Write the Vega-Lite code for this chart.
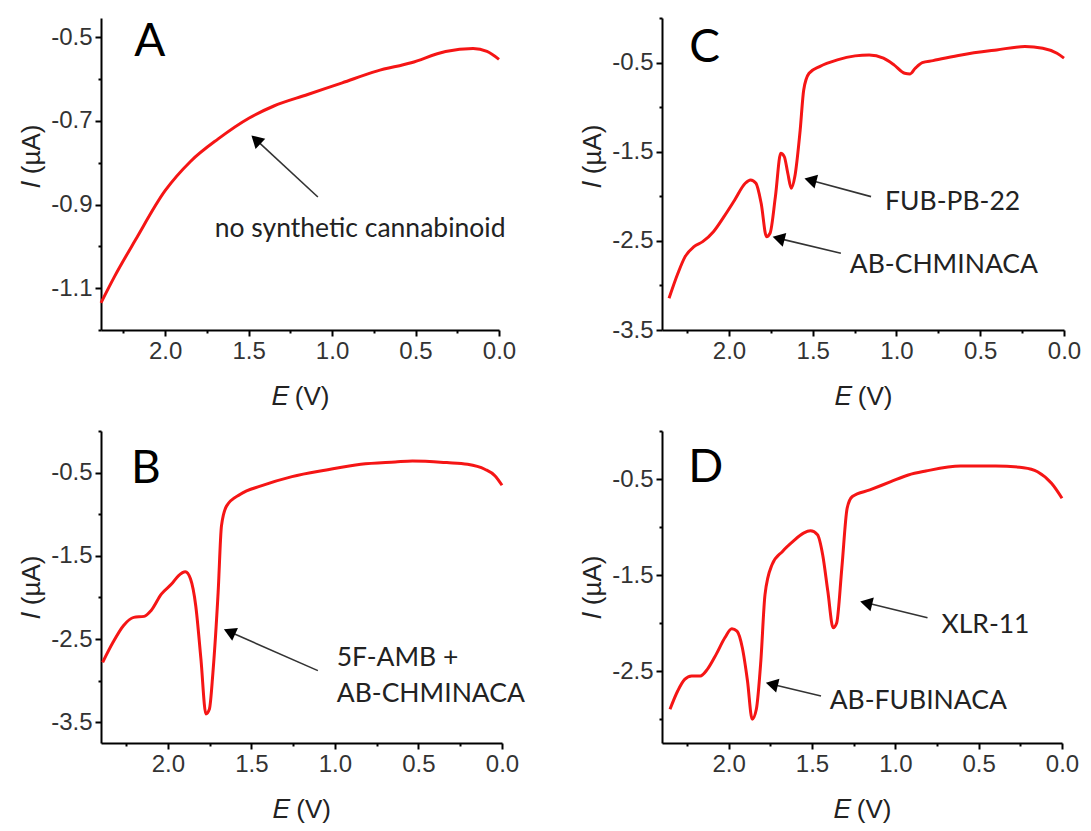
{
  "$schema": "https://vega.github.io/schema/vega-lite/v6.json",
  "background": "white",
  "padding": {"left": 18, "top": 6, "right": 10, "bottom": 5},
  "spacing": {"row": 10, "column": 54},
  "columns": 2,
  "datasets": {
    "A": [{"E":2.384,"I":-1.135},{"E":2.30,"I":-1.07},{"E":2.178,"I":-0.985},{"E":2.0,"I":-0.867},{"E":1.848,"I":-0.797},{"E":1.682,"I":-0.743},{"E":1.496,"I":-0.693},{"E":1.352,"I":-0.665},{"E":1.146,"I":-0.637},{"E":0.939,"I":-0.609},{"E":0.733,"I":-0.581},{"E":0.526,"I":-0.561},{"E":0.32,"I":-0.534},{"E":0.155,"I":-0.527},{"E":0.072,"I":-0.534},{"E":0.0,"I":-0.553}],
    "C": [{"E":2.358,"I":-3.145},{"E":2.305,"I":-2.864},{"E":2.262,"I":-2.677},{"E":2.209,"I":-2.565},{"E":2.157,"I":-2.509},{"E":2.093,"I":-2.397},{"E":2.03,"I":-2.228},{"E":1.966,"I":-2.041},{"E":1.903,"I":-1.854},{"E":1.871,"I":-1.817},{"E":1.839,"I":-1.854},{"E":1.808,"I":-2.079},{"E":1.776,"I":-2.453},{"E":1.755,"I":-2.415},{"E":1.723,"I":-2.004},{"E":1.691,"I":-1.518},{"E":1.67,"I":-1.555},{"E":1.649,"I":-1.742},{"E":1.628,"I":-1.91},{"E":1.607,"I":-1.779},{"E":1.575,"I":-1.256},{"E":1.554,"I":-0.807},{"E":1.522,"I":-0.62},{"E":1.459,"I":-0.545},{"E":1.353,"I":-0.47},{"E":1.247,"I":-0.425},{"E":1.163,"I":-0.414},{"E":1.078,"I":-0.451},{"E":1.015,"I":-0.526},{"E":0.951,"I":-0.62},{"E":0.919,"I":-0.627},{"E":0.888,"I":-0.564},{"E":0.846,"I":-0.5},{"E":0.782,"I":-0.478},{"E":0.613,"I":-0.414},{"E":0.402,"I":-0.358},{"E":0.233,"I":-0.32},{"E":0.127,"I":-0.339},{"E":0.042,"I":-0.395},{"E":0.0,"I":-0.45}],
    "B": [{"E":2.39,"I":-2.78},{"E":2.328,"I":-2.54},{"E":2.266,"I":-2.34},{"E":2.204,"I":-2.24},{"E":2.142,"I":-2.228},{"E":2.101,"I":-2.16},{"E":2.039,"I":-1.96},{"E":1.978,"I":-1.84},{"E":1.937,"I":-1.74},{"E":1.895,"I":-1.692},{"E":1.864,"I":-1.78},{"E":1.833,"I":-2.1},{"E":1.802,"I":-2.74},{"E":1.772,"I":-3.4},{"E":1.751,"I":-3.34},{"E":1.73,"I":-2.9},{"E":1.699,"I":-1.94},{"E":1.679,"I":-1.14},{"E":1.648,"I":-0.9},{"E":1.566,"I":-0.76},{"E":1.442,"I":-0.66},{"E":1.257,"I":-0.548},{"E":1.051,"I":-0.468},{"E":0.845,"I":-0.4},{"E":0.639,"I":-0.372},{"E":0.536,"I":-0.36},{"E":0.33,"I":-0.38},{"E":0.206,"I":-0.4},{"E":0.103,"I":-0.46},{"E":0.041,"I":-0.54},{"E":0.0,"I":-0.652}],
    "D": [{"E":2.352,"I":-2.898},{"E":2.306,"I":-2.708},{"E":2.264,"I":-2.587},{"E":2.222,"I":-2.552},{"E":2.17,"I":-2.552},{"E":2.128,"I":-2.483},{"E":2.075,"I":-2.327},{"E":2.023,"I":-2.154},{"E":1.981,"I":-2.06},{"E":1.95,"I":-2.085},{"E":1.918,"I":-2.258},{"E":1.887,"I":-2.604},{"E":1.859,"I":-3.002},{"E":1.834,"I":-2.898},{"E":1.807,"I":-2.396},{"E":1.782,"I":-1.704},{"E":1.74,"I":-1.393},{"E":1.677,"I":-1.254},{"E":1.614,"I":-1.15},{"E":1.551,"I":-1.064},{"E":1.509,"I":-1.04},{"E":1.467,"I":-1.081},{"E":1.436,"I":-1.289},{"E":1.405,"I":-1.67},{"E":1.373,"I":-2.05},{"E":1.352,"I":-2.0},{"E":1.321,"I":-1.427},{"E":1.289,"I":-0.804},{"E":1.258,"I":-0.683},{"E":1.153,"I":-0.614},{"E":1.027,"I":-0.528},{"E":0.922,"I":-0.458},{"E":0.817,"I":-0.417},{"E":0.608,"I":-0.365},{"E":0.398,"I":-0.365},{"E":0.231,"I":-0.382},{"E":0.147,"I":-0.424},{"E":0.063,"I":-0.545},{"E":0.0,"I":-0.7}],
    "A_arrows": [{"E":1.085,"I":-0.882,"E2":1.456,"I2":-0.745}],
    "C_arrows": [{"E":1.152,"I":-2.004,"E2":1.514,"I2":-1.819},{"E":1.332,"I":-2.64,"E2":1.704,"I2":-2.472}],
    "B_arrows": [{"E":1.102,"I":-2.88,"E2":1.631,"I2":-2.414}],
    "D_arrows": [{"E":0.807,"I":-1.946,"E2":1.175,"I2":-1.79},{"E":1.446,"I":-2.76,"E2":1.741,"I2":-2.638}],
    "A_text": [{"E":1.703,"I":-0.978,"label":"no synthetic cannabinoid"}],
    "C_text": [{"E":1.068,"I":-2.154,"label":"FUB-PB-22"},{"E":1.279,"I":-2.864,"label":"AB-CHMINACA"}],
    "B_text": [{"E":0.989,"I":-2.82,"label":"5F-AMB +"},{"E":0.989,"I":-3.26,"label":"AB-CHMINACA"}],
    "D_text": [{"E":0.723,"I":-2.102,"label":"XLR-11"},{"E":1.394,"I":-2.898,"label":"AB-FUBINACA"}],
    "A_tag": [{"E":2.092,"I":-0.546,"label":"A"}],
    "C_tag": [{"E":2.146,"I":-0.489,"label":"C"}],
    "B_tag": [{"E":2.132,"I":-0.62,"label":"B"}],
    "D_tag": [{"E":2.138,"I":-0.528,"label":"D"}]
  },
  "concat": [
    {
      "width": 398, "height": 312,
      "layer": [
        {"data": {"name": "A"}, "mark": {"type": "line", "color": "#f51515", "strokeWidth": 3, "interpolate": "monotone"},
         "encoding": {
           "x": {"field": "E", "type": "quantitative", "scale": {"domain": [0, 2.384], "reverse": true, "nice": false, "zero": false},
                 "axis": {"title": "𝐸 (V)", "values": [0,0.25,0.5,0.75,1,1.25,1.5,1.75,2,2.25], "labelExpr": "datum.value*2 % 1 === 0 ? format(datum.value,'.1f') : ''", "tickSize": {"condition": {"test": "datum.value*2 % 1 === 0", "value": 6}, "value": 3}, "labelFlush": false, "labelOverlap": false}},
           "y": {"field": "I", "type": "quantitative", "scale": {"domain": [-1.2, -0.454], "nice": false, "zero": false},
                 "axis": {"title": "𝐼 (µA)", "titleY": 138, "values": [-1.2,-1.1,-1.0,-0.9,-0.8,-0.7,-0.6,-0.5], "labelExpr": "abs(round(datum.value*10)) % 2 === 1 ? replace(format(datum.value,'.1f'),'\u2212','-') : ''", "tickSize": {"condition": {"test": "abs(round(datum.value*10)) % 2 === 1", "value": 6}, "value": 3}, "labelOverlap": false}}
         }},
        {"data": {"name": "A_arrows"}, "mark": {"type": "rule", "color": "#333", "strokeWidth": 1.6},
         "encoding": {"x": {"field": "E", "type": "quantitative"}, "y": {"field": "I", "type": "quantitative"}, "x2": {"field": "E2"}, "y2": {"field": "I2"}}},
        {"data": {"name": "A_arrows"}, "mark": {"type": "point", "shape": "triangle-up", "filled": true, "color": "#000", "opacity": 1, "size": 200, "angle": -47},
         "encoding": {"x": {"field": "E2", "type": "quantitative"}, "y": {"field": "I2", "type": "quantitative"}}},
        {"data": {"name": "A_text"}, "mark": {"type": "text", "align": "left", "baseline": "alphabetic", "font": "Lato", "fontSize": 26.5, "color": "#222"},
         "encoding": {"x": {"field": "E", "type": "quantitative"}, "y": {"field": "I", "type": "quantitative"}, "text": {"field": "label"}}},
        {"data": {"name": "A_tag"}, "mark": {"type": "text", "align": "center", "baseline": "alphabetic", "font": "Lato", "fontSize": 46, "color": "#000"},
         "encoding": {"x": {"field": "E", "type": "quantitative"}, "y": {"field": "I", "type": "quantitative"}, "text": {"field": "label"}}}
      ]
    },
    {
      "width": 402, "height": 312,
      "layer": [
        {"data": {"name": "C"}, "mark": {"type": "line", "color": "#f51515", "strokeWidth": 3, "interpolate": "monotone"},
         "encoding": {
           "x": {"field": "E", "type": "quantitative", "scale": {"domain": [0, 2.4], "reverse": true, "nice": false, "zero": false},
                 "axis": {"title": "𝐸 (V)", "values": [0,0.25,0.5,0.75,1,1.25,1.5,1.75,2,2.25], "labelExpr": "datum.value*2 % 1 === 0 ? format(datum.value,'.1f') : ''", "tickSize": {"condition": {"test": "datum.value*2 % 1 === 0", "value": 6}, "value": 3}, "labelFlush": false, "labelOverlap": false}},
           "y": {"field": "I", "type": "quantitative", "scale": {"domain": [-3.5, 0], "nice": false, "zero": false},
                 "axis": {"title": "𝐼 (µA)", "titleY": 138, "values": [-3.5,-3,-2.5,-2,-1.5,-1,-0.5,0], "labelExpr": "abs(round(datum.value*2)) % 2 === 1 ? replace(format(datum.value,'.1f'),'\u2212','-') : ''", "tickSize": {"condition": {"test": "abs(round(datum.value*2)) % 2 === 1", "value": 6}, "value": 3}, "labelOverlap": false}}
         }},
        {"data": {"name": "C_arrows"}, "mark": {"type": "rule", "color": "#333", "strokeWidth": 1.6},
         "encoding": {"x": {"field": "E", "type": "quantitative"}, "y": {"field": "I", "type": "quantitative"}, "x2": {"field": "E2"}, "y2": {"field": "I2"}}},
        {"data": {"name": "C_arrows"}, "mark": {"type": "point", "shape": "triangle-up", "filled": true, "color": "#000", "opacity": 1, "size": 200, "angle": -75.5},
         "encoding": {"x": {"field": "E2", "type": "quantitative"}, "y": {"field": "I2", "type": "quantitative"}}},
        {"data": {"name": "C_text"}, "mark": {"type": "text", "align": "left", "baseline": "alphabetic", "font": "Lato", "fontSize": 26.5, "color": "#222"},
         "encoding": {"x": {"field": "E", "type": "quantitative"}, "y": {"field": "I", "type": "quantitative"}, "text": {"field": "label"}}},
        {"data": {"name": "C_tag"}, "mark": {"type": "text", "align": "center", "baseline": "alphabetic", "font": "Lato", "fontSize": 46, "color": "#000"},
         "encoding": {"x": {"field": "E", "type": "quantitative"}, "y": {"field": "I", "type": "quantitative"}, "text": {"field": "label"}}}
      ]
    },
    {
      "width": 401, "height": 312,
      "layer": [
        {"data": {"name": "B"}, "mark": {"type": "line", "color": "#f51515", "strokeWidth": 3, "interpolate": "monotone"},
         "encoding": {
           "x": {"field": "E", "type": "quantitative", "scale": {"domain": [0, 2.4], "reverse": true, "nice": false, "zero": false},
                 "axis": {"title": "𝐸 (V)", "values": [0,0.25,0.5,0.75,1,1.25,1.5,1.75,2,2.25], "labelExpr": "datum.value*2 % 1 === 0 ? format(datum.value,'.1f') : ''", "tickSize": {"condition": {"test": "datum.value*2 % 1 === 0", "value": 6}, "value": 3}, "labelFlush": false, "labelOverlap": false}},
           "y": {"field": "I", "type": "quantitative", "scale": {"domain": [-3.75, 0], "nice": false, "zero": false},
                 "axis": {"title": "𝐼 (µA)", "values": [-3.5,-3,-2.5,-2,-1.5,-1,-0.5,0], "labelExpr": "abs(round(datum.value*2)) % 2 === 1 ? replace(format(datum.value,'.1f'),'\u2212','-') : ''", "tickSize": {"condition": {"test": "abs(round(datum.value*2)) % 2 === 1", "value": 6}, "value": 3}, "labelOverlap": false}}
         }},
        {"data": {"name": "B_arrows"}, "mark": {"type": "rule", "color": "#333", "strokeWidth": 1.6},
         "encoding": {"x": {"field": "E", "type": "quantitative"}, "y": {"field": "I", "type": "quantitative"}, "x2": {"field": "E2"}, "y2": {"field": "I2"}}},
        {"data": {"name": "B_arrows"}, "mark": {"type": "point", "shape": "triangle-up", "filled": true, "color": "#000", "opacity": 1, "size": 200, "angle": -66},
         "encoding": {"x": {"field": "E2", "type": "quantitative"}, "y": {"field": "I2", "type": "quantitative"}}},
        {"data": {"name": "B_text"}, "mark": {"type": "text", "align": "left", "baseline": "alphabetic", "font": "Lato", "fontSize": 26.5, "color": "#222"},
         "encoding": {"x": {"field": "E", "type": "quantitative"}, "y": {"field": "I", "type": "quantitative"}, "text": {"field": "label"}}},
        {"data": {"name": "B_tag"}, "mark": {"type": "text", "align": "center", "baseline": "alphabetic", "font": "Lato", "fontSize": 46, "color": "#000"},
         "encoding": {"x": {"field": "E", "type": "quantitative"}, "y": {"field": "I", "type": "quantitative"}, "text": {"field": "label"}}}
      ]
    },
    {
      "width": 400, "height": 312,
      "layer": [
        {"data": {"name": "D"}, "mark": {"type": "line", "color": "#f51515", "strokeWidth": 3, "interpolate": "monotone"},
         "encoding": {
           "x": {"field": "E", "type": "quantitative", "scale": {"domain": [0, 2.4], "reverse": true, "nice": false, "zero": false},
                 "axis": {"title": "𝐸 (V)", "values": [0,0.25,0.5,0.75,1,1.25,1.5,1.75,2,2.25], "labelExpr": "datum.value*2 % 1 === 0 ? format(datum.value,'.1f') : ''", "tickSize": {"condition": {"test": "datum.value*2 % 1 === 0", "value": 6}, "value": 3}, "labelFlush": false, "labelOverlap": false}},
           "y": {"field": "I", "type": "quantitative", "scale": {"domain": [-3.25, 0], "nice": false, "zero": false},
                 "axis": {"title": "𝐼 (µA)", "values": [-3,-2.5,-2,-1.5,-1,-0.5,0], "labelExpr": "abs(round(datum.value*2)) % 2 === 1 ? replace(format(datum.value,'.1f'),'\u2212','-') : ''", "tickSize": {"condition": {"test": "abs(round(datum.value*2)) % 2 === 1", "value": 6}, "value": 3}, "labelOverlap": false}}
         }},
        {"data": {"name": "D_arrows"}, "mark": {"type": "rule", "color": "#333", "strokeWidth": 1.6},
         "encoding": {"x": {"field": "E", "type": "quantitative"}, "y": {"field": "I", "type": "quantitative"}, "x2": {"field": "E2"}, "y2": {"field": "I2"}}},
        {"data": {"name": "D_arrows"}, "mark": {"type": "point", "shape": "triangle-up", "filled": true, "color": "#000", "opacity": 1, "size": 200, "angle": -76.4},
         "encoding": {"x": {"field": "E2", "type": "quantitative"}, "y": {"field": "I2", "type": "quantitative"}}},
        {"data": {"name": "D_text"}, "mark": {"type": "text", "align": "left", "baseline": "alphabetic", "font": "Lato", "fontSize": 26.5, "color": "#222"},
         "encoding": {"x": {"field": "E", "type": "quantitative"}, "y": {"field": "I", "type": "quantitative"}, "text": {"field": "label"}}},
        {"data": {"name": "D_tag"}, "mark": {"type": "text", "align": "center", "baseline": "alphabetic", "font": "Lato", "fontSize": 46, "color": "#000"},
         "encoding": {"x": {"field": "E", "type": "quantitative"}, "y": {"field": "I", "type": "quantitative"}, "text": {"field": "label"}}}
      ]
    }
  ],
  "config": {
    "view": {"stroke": null},
    "axis": {"grid": false, "domainColor": "#000", "domainWidth": 2, "tickColor": "#000", "tickWidth": 2, "labelFont": "Liberation Sans", "labelFontSize": 24, "labelColor": "#333", "labelPadding": 3, "titleFont": "Liberation Sans", "titleFontSize": 26, "titleFontWeight": "normal", "titleColor": "#222", "titlePadding": 6},
    "axisX": {"titlePadding": 20}
  }
}
